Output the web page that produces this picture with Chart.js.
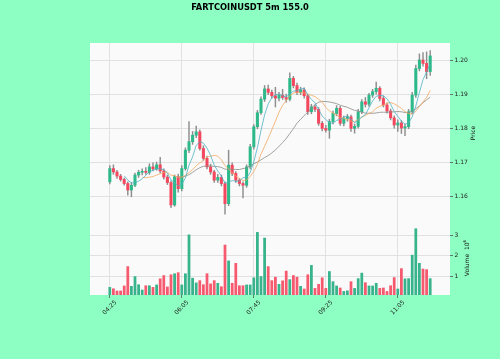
<!DOCTYPE html>
<html>
<head>
<meta charset="utf-8">
<script src="https://cdn.jsdelivr.net/npm/chart.js@4.4.1/dist/chart.umd.min.js"></script>
<style>
  body { margin: 0; background: #8dffc2; }
  #wrap { position: relative; width: 500px; height: 359px; }
  #title { position: absolute; left: 0; width: 500px; top: 1px; text-align: center;
           font: bold 8.3px "DejaVu Sans"; color: #000; line-height: 12px; }
  .ylab { position: absolute; font: 6px "DejaVu Sans"; color: #111; white-space: nowrap;
          transform: translate(-50%, -50%) rotate(-90deg); }
  .ylab sup { font-size: 4px; }
</style>
</head>
<body>
<div id="wrap">
  <canvas id="chart" width="500" height="359"></canvas>
  <div id="title">FARTCOINUSDT 5m 155.0</div>
  <div class="ylab" style="left:472px; top:133px;">Price</div>
  <div class="ylab" style="left:466px; top:258px;">Volume&nbsp;&nbsp;10<sup>6</sup></div>
</div>
<script>
// 5m candles, 04:25 .. 11:50
const OPEN = [1.1642,1.1681,1.1671,1.1659,1.1649,1.1637,1.1618,1.1632,1.1662,1.1670,
  1.1673,1.1670,1.1686,1.1680,1.1692,1.1674,1.1656,1.1640,1.1574,1.1657,
  1.1622,1.1681,1.1735,1.1760,1.1779,1.1789,1.1740,1.1711,1.1686,1.1671,
  1.1647,1.1655,1.1637,1.1578,1.1691,1.1667,1.1647,1.1637,1.1632,1.1686,
  1.1745,1.1804,1.1845,1.1885,1.1915,1.1905,1.1895,1.1888,1.1897,1.1890,
  1.1885,1.1946,1.1925,1.1905,1.1912,1.1895,1.1848,1.1862,1.1855,1.1814,
  1.1799,1.1794,1.1819,1.1843,1.1858,1.1814,1.1828,1.1833,1.1799,1.1805,
  1.1848,1.1877,1.1870,1.1897,1.1907,1.1917,1.1887,1.1868,1.1850,1.1830,
  1.1809,1.1815,1.1800,1.1804,1.1848,1.1897,1.1975,1.2000,1.1990,1.1966];
const HIGH = [1.1690,1.1692,1.1676,1.1664,1.1653,1.1642,1.1640,1.1668,1.1676,1.1680,
  1.1684,1.1695,1.1698,1.1700,1.1714,1.1680,1.1662,1.1645,1.1662,1.1665,
  1.1690,1.1742,1.1819,1.1790,1.1806,1.1795,1.1748,1.1718,1.1694,1.1676,
  1.1664,1.1662,1.1642,1.1735,1.1698,1.1672,1.1652,1.1642,1.1692,1.1752,
  1.1810,1.1852,1.1892,1.1925,1.1926,1.1912,1.1920,1.1905,1.1914,1.1900,
  1.1962,1.1952,1.1932,1.1920,1.1918,1.1900,1.1870,1.1868,1.1860,1.1820,
  1.1808,1.1826,1.1850,1.1866,1.1864,1.1835,1.1840,1.1838,1.1812,1.1855,
  1.1884,1.1890,1.1902,1.1914,1.1935,1.1922,1.1894,1.1874,1.1856,1.1836,
  1.1824,1.1822,1.1812,1.1855,1.1905,1.1985,1.2018,1.2022,1.2024,1.2028];
const LOW = [1.1636,1.1664,1.1652,1.1644,1.1632,1.1603,1.1598,1.1628,1.1655,1.1662,
  1.1664,1.1664,1.1674,1.1676,1.1668,1.1650,1.1634,1.1566,1.1570,1.1612,
  1.1615,1.1676,1.1728,1.1752,1.1772,1.1735,1.1705,1.1680,1.1664,1.1640,
  1.1640,1.1630,1.1547,1.1572,1.1660,1.1640,1.1630,1.1595,1.1626,1.1680,
  1.1738,1.1798,1.1840,1.1878,1.1898,1.1888,1.1862,1.1880,1.1884,1.1876,
  1.1880,1.1918,1.1898,1.1898,1.1888,1.1840,1.1842,1.1848,1.1808,1.1792,
  1.1788,1.1770,1.1812,1.1836,1.1808,1.1806,1.1820,1.1790,1.1785,1.1800,
  1.1842,1.1862,1.1864,1.1890,1.1900,1.1880,1.1862,1.1844,1.1824,1.1800,
  1.1790,1.1784,1.1778,1.1798,1.1842,1.1890,1.1968,1.1982,1.1945,1.1955];
const CLOSE = [1.1681,1.1671,1.1659,1.1649,1.1637,1.1618,1.1632,1.1662,1.1670,1.1673,
  1.1670,1.1686,1.1680,1.1692,1.1674,1.1656,1.1640,1.1574,1.1657,1.1622,
  1.1681,1.1735,1.1760,1.1779,1.1789,1.1740,1.1711,1.1686,1.1671,1.1647,
  1.1655,1.1637,1.1578,1.1691,1.1667,1.1647,1.1637,1.1632,1.1686,1.1745,
  1.1804,1.1845,1.1885,1.1915,1.1905,1.1895,1.1888,1.1897,1.1890,1.1885,
  1.1946,1.1925,1.1905,1.1912,1.1895,1.1848,1.1862,1.1855,1.1814,1.1799,
  1.1794,1.1819,1.1843,1.1858,1.1814,1.1828,1.1833,1.1799,1.1805,1.1848,
  1.1877,1.1870,1.1897,1.1907,1.1917,1.1887,1.1868,1.1850,1.1830,1.1809,
  1.1815,1.1800,1.1804,1.1848,1.1897,1.1975,1.2000,1.1990,1.1966,1.2012];
// volume in millions
const VOLUME = [0.45,0.38,0.27,0.27,0.52,1.47,0.50,0.98,0.58,0.32,
  0.53,0.53,0.45,0.57,0.87,1.03,0.47,1.07,1.12,1.17,
  0.57,1.12,3.03,0.90,0.67,0.78,0.58,1.12,0.62,0.78,
  0.65,0.48,2.53,1.75,0.65,1.63,0.53,0.53,0.57,0.57,
  0.92,3.15,0.98,2.87,1.47,0.78,0.95,0.60,0.77,1.25,
  0.83,1.03,0.95,0.50,0.37,1.07,1.53,0.40,0.60,0.92,
  0.40,1.23,0.73,0.52,0.42,0.25,0.28,0.73,0.40,0.88,
  1.15,0.68,0.52,0.52,0.65,0.40,0.42,0.25,0.53,0.93,
  0.37,1.37,0.87,0.88,2.03,3.33,1.63,1.35,1.32,0.88];
// moving averages as drawn (5, 10, 20)
const MA5 = [null,null,null,null,1.16594,1.16468,1.16390,1.16396,1.16438,1.16510,
  1.16614,1.16722,1.16758,1.16802,1.16804,1.16776,1.16684,1.16472,1.16402,1.16298,
  1.16348,1.16538,1.16910,1.17154,1.17488,1.17606,1.17558,1.17410,1.17194,1.16910,
  1.16740,1.16592,1.16376,1.16416,1.16456,1.16440,1.16440,1.16548,1.16538,1.16694,
  1.17008,1.17424,1.17930,1.18388,1.18708,1.18890,1.18976,1.19000,1.18950,1.18910,
  1.19012,1.19086,1.19102,1.19146,1.19166,1.18970,1.18844,1.18744,1.18548,1.18356,
  1.18248,1.18162,1.18138,1.18226,1.18256,1.18324,1.18352,1.18264,1.18158,1.18226,
  1.18324,1.18398,1.18594,1.18798,1.18936,1.18956,1.18952,1.18858,1.18704,1.18488,
  1.18344,1.18208,1.18116,1.18152,1.18328,1.18648,1.19048,1.19420,1.19656,1.19886];
const MA10 = [null,null,null,null,null,null,null,null,null,1.16552,
  1.16541,1.16556,1.16577,1.16620,1.16657,1.16695,1.16703,1.16615,1.16602,1.16551,
  1.16562,1.16611,1.16691,1.16778,1.16893,1.16977,1.17048,1.17160,1.17174,1.17199,
  1.17173,1.17075,1.16893,1.16805,1.16683,1.16590,1.16516,1.16462,1.16477,1.16575,
  1.16724,1.16932,1.17239,1.17463,1.17701,1.17949,1.18200,1.18465,1.18669,1.18809,
  1.18951,1.19031,1.19051,1.19048,1.19038,1.18991,1.18965,1.18923,1.18847,1.18761,
  1.18609,1.18503,1.18441,1.18387,1.18306,1.18286,1.18257,1.18201,1.18192,1.18241,
  1.18324,1.18375,1.18429,1.18478,1.18581,1.18640,1.18675,1.18726,1.18751,1.18712,
  1.18650,1.18580,1.18487,1.18428,1.18408,1.18496,1.18628,1.18768,1.18904,1.19107];
const MA20 = [null,null,null,null,null,null,null,null,null,null,
  null,null,null,null,null,null,null,null,null,1.16552,
  1.16552,1.16584,1.16634,1.16699,1.16775,1.16836,1.16876,1.16888,1.16888,1.16875,
  1.16868,1.16843,1.16792,1.16792,1.16788,1.16784,1.16782,1.16811,1.16826,1.16887,
  1.16949,1.17004,1.17066,1.17134,1.17192,1.17270,1.17358,1.17464,1.17573,1.17692,
  1.17838,1.17982,1.18145,1.18256,1.18370,1.18470,1.18583,1.18694,1.18758,1.18785,
  1.18780,1.18767,1.18746,1.18718,1.18672,1.18639,1.18611,1.18562,1.18520,1.18501,
  1.18467,1.18439,1.18435,1.18433,1.18444,1.18463,1.18466,1.18464,1.18472,1.18477,
  1.18487,1.18478,1.18458,1.18453,1.18495,1.18568,1.18652,1.18747,1.18828,1.18910];

const X_TICK_POS = [0, 20, 40, 60, 80];
const X_TICK_LABELS = ['04:25', '06:05', '07:45', '09:25', '11:05'];
const PRICE_TICKS = [1.16, 1.17, 1.18, 1.19, 1.20];
const VOLUME_TICKS = [1, 2, 3];

const UP = '#2db98a';
const DOWN = '#f5475e';
const VOL_UP = '#38b48c';
const VOL_DOWN = '#f55a6e';
const WICK = '#8e8e8e';
const GRID = '#dadada';
const FONT = 'DejaVu Sans';

const isUp = CLOSE.map((c, i) => c >= OPEN[i]);
const candleColor = isUp.map(u => u ? UP : DOWN);
const volumeColor = isUp.map(u => u ? VOL_UP : VOL_DOWN);

const panelBg = {
  id: 'panelBg',
  beforeDraw(chart) {
    const { ctx, chartArea: a } = chart;
    ctx.save();
    ctx.fillStyle = '#fafafa';
    ctx.fillRect(a.left, a.top, a.right - a.left, a.bottom - a.top);
    ctx.restore();
  }
};

const maLine = (arr, color) => ({
  type: 'line',
  data: arr.map((v, i) => ({ x: i, y: v })),
  yAxisID: 'y',
  borderColor: color,
  borderWidth: 0.8,
  pointRadius: 0,
  tension: 0,
  order: -1
});

const setWidth = w => s => { s.width = w; };

new Chart(document.getElementById('chart'), {
  type: 'bar',
  data: {
    datasets: [
      {
        label: 'wick',
        data: HIGH.map((h, i) => ({ x: i, y: [LOW[i], h] })),
        yAxisID: 'y',
        backgroundColor: WICK,
        barThickness: 0.8,
        grouped: false,
        order: 2
      },
      {
        label: 'body',
        data: OPEN.map((o, i) => ({ x: i, y: [o, CLOSE[i]] })),
        yAxisID: 'y',
        backgroundColor: candleColor,
        barThickness: 2.4,
        minBarLength: 0.6,
        grouped: false,
        order: 1
      },
      {
        label: 'volume',
        data: VOLUME.map((v, i) => ({ x: i, y: v })),
        yAxisID: 'y2',
        backgroundColor: volumeColor,
        barThickness: 2.1,
        grouped: false,
        order: 1
      },
      maLine(MA5, '#4fb1c4'),
      maLine(MA10, '#f2a860'),
      maLine(MA20, '#8c8c86')
    ]
  },
  options: {
    responsive: false,
    animation: false,
    devicePixelRatio: 1,
    layout: { padding: { left: 90, right: 0, top: 43, bottom: 0 } },
    plugins: {
      legend: { display: false },
      tooltip: { enabled: false },
      title: { display: false }
    },
    scales: {
      x: {
        type: 'linear',
        offset: false,
        min: -5.5,
        max: 94.5,
        afterBuildTicks: s => { s.ticks = X_TICK_POS.map(v => ({ value: v })); },
        afterFit: s => { s.height = 64; },
        ticks: {
          minRotation: 45,
          maxRotation: 45,
          autoSkip: false,
          labelOffset: 6,
          padding: 1,
          color: '#222',
          font: { family: FONT, size: 6 },
          callback: v => X_TICK_LABELS[X_TICK_POS.indexOf(v)]
        },
        grid: { offset: false, color: GRID, lineWidth: 0.8, tickColor: '#555', tickLength: 3 },
        border: { display: false }
      },
      y: {
        type: 'linear',
        position: 'right',
        stack: 'panels',
        stackWeight: 179,
        min: 1.1524,
        max: 1.2050,
        afterBuildTicks: s => { s.ticks = PRICE_TICKS.map(v => ({ value: v })); },
        afterFit: setWidth(50),
        ticks: {
          color: '#222',
          padding: 1.5,
          font: { family: FONT, size: 6 },
          callback: v => v.toFixed(2)
        },
        grid: { color: GRID, lineWidth: 0.8, tickColor: '#555', tickLength: 3 },
        border: { display: false }
      },
      y2: {
        type: 'linear',
        position: 'right',
        stack: 'panels',
        stackWeight: 73,
        offset: false,
        min: 0.075,
        max: 3.66,
        afterBuildTicks: s => { s.ticks = VOLUME_TICKS.map(v => ({ value: v })); },
        afterFit: setWidth(50),
        ticks: {
          color: '#222',
          padding: 1.5,
          font: { family: FONT, size: 6 },
          callback: v => String(v)
        },
        grid: { color: GRID, lineWidth: 0.8, tickColor: '#555', tickLength: 3 },
        border: { display: false }
      }
    }
  },
  plugins: [panelBg]
});
</script>
</body>
</html>
